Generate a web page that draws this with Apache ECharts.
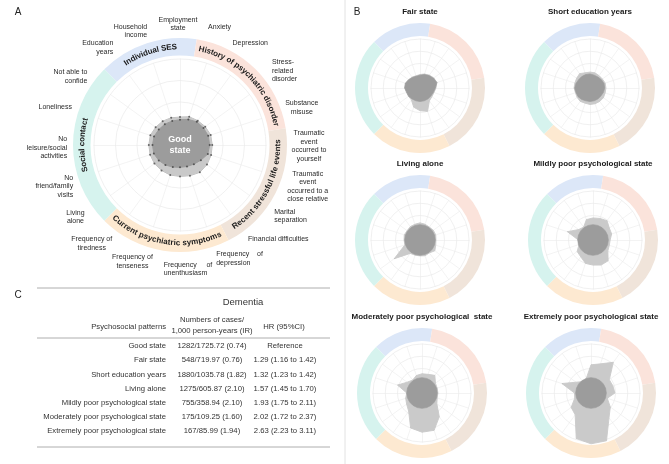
<!DOCTYPE html>
<html><head><meta charset="utf-8">
<script src="https://cdn.jsdelivr.net/npm/echarts@6/dist/echarts.min.js"></script>
<style>html,body{margin:0;padding:0;background:#fff}#c{width:669px;height:464px}</style>
</head><body><div id="c"></div>
<script>
// ---------- DATA ----------
const indicatorNames = ['Employment\nstate','Anxiety','Depression','Stress-\nrelated\ndisorder','Substance\nmisuse',
 'Traumatic\nevent\noccurred to\nyourself','Traumatic\nevent\noccurred to a\nclose relative','Marital\nseparation',
 'Financial difficulties','Frequency    of\ndepression','Frequency     of\nunenthusiasm','Frequency of\ntenseness',
 'Frequency of\ntiredness','Living\nalone','No\nfriend/family\nvisits','No\nleisure/social\nactivities','Loneliness',
 'Not able to\nconfide','Education\nyears','Household\nincome'];
const groupNames = ['Individual SES','History of psychiatric disorder','Recent stressful life events','Current psychiatric symptoms','Social contact'];
const groupSizes = [3,4,4,4,5];
const axisMax = 4;

const goodStateLight = [1.3,1.38,1.4,1.45,1.5,1.5,1.52,1.55,1.57,1.5,1.46,1.47,1.46,1.47,1.46,1.45,1.45,1.4,1.37,1.33];
const goodStateDark  = [1.18,1.25,1.33,1.35,1.38,1.38,1.36,1.2,1.1,1.05,1.04,1.08,1.15,1.22,1.28,1.28,1.27,1.22,1.2,1.17];

const patternTitles = ['Fair state','Short education years','Living alone','Mildly poor psychological state','Moderately poor psychological  state','Extremely poor psychological state'];
const fairLight = [1.1,1.2,1.3,1.4,1.45,1.3,1.2,1.2,1.3,2.0,1.85,1.65,1.2,1.15,1.15,1.25,1.25,1.15,1.1,1.05];
const fairDark  = [1.05,1.15,1.25,1.35,1.45,1.25,1.15,1.1,1.1,1.1,1.1,1.1,1.1,1.15,1.15,1.25,1.25,1.15,1.05,1.0];
const shortEduLight = [1.3,1.3,1.25,1.25,1.3,1.3,1.3,1.35,1.35,1.35,1.35,1.3,1.35,1.3,1.25,1.3,1.3,1.35,1.45,1.3];
const shortEduDark  = [1.15,1.1,1.1,1.15,1.2,1.2,1.15,1.1,1.1,1.1,1.1,1.1,1.15,1.2,1.2,1.25,1.2,1.15,1.15,1.15];
const livingAloneLight = [1.4,1.35,1.3,1.35,1.35,1.3,1.35,1.5,1.3,1.35,1.3,1.3,1.35,2.6,1.3,1.3,1.35,1.3,1.35,1.35];
const mildlyLight = [1.8,1.85,1.95,1.65,1.6,1.4,1.4,1.5,2.1,2.15,2.05,2.0,1.7,1.6,1.2,1.2,2.2,1.45,1.3,1.75];
const moderatelyLight = [1.57,1.6,1.78,1.36,1.3,1.3,1.3,1.5,2.4,3.2,3.2,3.0,1.85,1.55,1.4,1.25,2.1,1.5,1.3,1.5];
const extremelyLight = [2.3,2.5,3.1,1.85,1.88,1.95,1.4,1.95,2.5,4.1,4.15,3.9,2.2,2.0,1.4,1.35,2.5,1.5,1.15,1.25];
const referenceCircle = [1.25,1.25,1.25,1.25,1.25,1.25,1.25,1.25,1.25,1.25,1.25,1.25,1.25,1.25,1.25,1.25,1.25,1.25,1.25,1.25];

const tableHeader = ['Psychosocial patterns','Numbers of cases/\n1,000 person-years (IR)','HR (95%CI)'];
const tablePatterns = ['Good state','Fair state','Short education years','Living alone','Mildly poor psychological state','Moderately poor psychological state','Extremely poor psychological state'];
const tableCases = ['1282/1725.72 (0.74)','548/719.97 (0.76)','1880/1035.78 (1.82)','1275/605.87 (2.10)','755/358.94 (2.10)','175/109.25 (1.60)','167/85.99 (1.94)'];
const tableHR = ['Reference','1.29 (1.16 to 1.42)','1.32 (1.23 to 1.42)','1.57 (1.45 to 1.70)','1.93 (1.75 to 2.11)','2.02 (1.72 to 2.37)','2.63 (2.23 to 3.11)'];

// ---------- LAYOUT / STYLE ----------
const FONT = '"Liberation Sans", Arial, sans-serif';
const groupColors = ['#dce7f8','#fbe3db','#f0e4da','#fde9d1','#d6f3ee'];
const panelA = {c:[180,145], r:86, ring:[89.5,107]};
const panelsB = [
  {c:[420,88], t:12, light:fairLight, dark:fairDark},
  {c:[590,88], t:12, light:shortEduLight, dark:shortEduDark},
  {c:[420,240], t:164, light:livingAloneLight, dark:referenceCircle},
  {c:[593,240], t:164, light:mildlyLight, dark:referenceCircle},
  {c:[422,393], t:317, light:moderatelyLight, dark:referenceCircle},
  {c:[591,393], t:317, light:extremelyLight, dark:referenceCircle}
];
const bR = 49, bRing = [52,65];
// label alignment & nudges for panel A
const labelAlign = ['center','left','left','left','center','center','center','left','left','left','left','center','center','center','right','right','right','right','right','right'];
const labelNudge = [[-2,7],[0,4],[-5,2],[1,1],[0,2],[1,1],[6,2],[7,-4],[23,-9],[20,-8],[8,-4],[-8,-5],[-13,-5],[-1,-3],[-4,2],[-5,3],[-3,2],[-6,7],[-7,6],[-10,8]];

const N = indicatorNames.length;
const order = [0]; for (let i = N-1; i >= 1; i--) order.push(i); // ECharts radar goes counter-clockwise
const reorder = arr => order.map(i => arr[i]);

const mctx = document.createElement('canvas').getContext('2d');
function textWidth(t, font){ mctx.font = font; return Math.max(...t.split('\n').map(l => mctx.measureText(l).width)); }

function radarCfg(center, radius){
  return {center, radius, startAngle:90, shape:'circle', splitNumber:4,
    indicator: order.map(i => ({name: indicatorNames[i], min:0, max:axisMax})),
    axisName:{show:false}, axisLabel:{show:false}, axisTick:{show:false},
    splitLine:{lineStyle:{color:'#e6e6e6', width:0.6}},
    splitArea:{show:false},
    axisLine:{lineStyle:{color:'#ebebeb', width:0.6}}};
}
function ringSeries(center, radius){
  return {type:'pie', center, radius, startAngle:135, clockwise:true, silent:true, animation:false,
    label:{show:false}, labelLine:{show:false}, emphasis:{disabled:true},
    data: groupSizes.map((v,k)=>({value:v, name:groupNames[k], itemStyle:{color:groupColors[k]}}))};
}
function curvedText(cx, cy, r, midDeg, text, font, inward){
  mctx.font = font;
  const chars = [...text];
  const widths = chars.map(ch => mctx.measureText(ch).width);
  const total = widths.reduce((a,b)=>a+b,0);
  const span = total / r, mid = midDeg*Math.PI/180;
  const els = []; let cum = 0;
  chars.forEach((ch,i)=>{
    const off = (cum + widths[i]/2)/r - span/2; cum += widths[i];
    const a = inward ? mid - off : mid + off;
    els.push({type:'text', x: cx + r*Math.sin(a), y: cy - r*Math.cos(a), rotation: inward ? Math.PI - a : -a,
      silent:true, z:100, style:{text:ch, font, fill:'#1a1a1a', align:'center', verticalAlign:'middle'}});
  });
  return els;
}

const radars = [radarCfg(panelA.c, panelA.r)];
const series = [ringSeries(panelA.c, panelA.ring)];
series.push({type:'radar', radarIndex:0, silent:true, animation:false, symbol:'circle', symbolSize:2,
  data:[
    {value:reorder(goodStateLight), areaStyle:{color:'#c9c9c9', opacity:1}, lineStyle:{color:'#8d8d8d', width:0.6}, itemStyle:{color:'#666'}},
    {value:reorder(goodStateDark), areaStyle:{color:'#9c9c9c', opacity:1}, lineStyle:{color:'#7d7d7d', width:0.6}, itemStyle:{color:'#555'}}
  ]});
panelsB.forEach((p,k)=>{
  radars.push(radarCfg(p.c, bR));
  series.push(ringSeries(p.c, bRing));
  series.push({type:'radar', radarIndex:k+1, silent:true, animation:false, symbol:'none',
    data:[
      {value:reorder(p.light), areaStyle:{color:'#cacaca', opacity:1}, lineStyle:{color:'#9e9e9e', width:0.5}},
      {value:reorder(p.dark), areaStyle:{color:'#9c9c9c', opacity:1}, lineStyle:{color:'#8a8a8a', width:0.5}}
    ]});
});

const g = [];
// separators
g.push({type:'line', silent:true, shape:{x1:345,y1:0,x2:345,y2:464}, style:{stroke:'#e2e2e2', lineWidth:1}});
// panel letters
[['A',18,12],['B',357,12],['C',18,295]].forEach(([t,x,y])=>g.push({type:'text', x, y, silent:true, style:{text:t, font:'10px '+FONT, fill:'#222', align:'center', verticalAlign:'middle'}}));
// panel A indicator labels
const lblFont = '7px ' + FONT;
indicatorNames.forEach((name,i)=>{
  const a = i*2*Math.PI/N, R = 128;
  const cx = panelA.c[0] + R*Math.sin(a) + labelNudge[i][0];
  const cy = panelA.c[1] - R*Math.cos(a) + labelNudge[i][1];
  const w = textWidth(name, lblFont), al = labelAlign[i];
  const x = al === 'left' ? cx - w/2 : al === 'right' ? cx + w/2 : cx;
  g.push({type:'text', x, y:cy, silent:true, z:100, style:{text:name, font:lblFont, fill:'#2a2a2a', align:al, verticalAlign:'middle', lineHeight:8.5}});
});
// curved group labels
const gFont = 'bold 8px ' + FONT;
let startDeg = 315;
groupSizes.forEach((s,k)=>{
  const mid = startDeg + s*9;
  const midN = ((mid % 360) + 360) % 360;
  const inward = midN > 95 && midN < 265;
  g.push(...curvedText(panelA.c[0], panelA.c[1], 98, mid, groupNames[k], gFont, inward));
  startDeg += s*18;
});
// centre label
g.push({type:'text', x:panelA.c[0], y:panelA.c[1], silent:true, z:100, style:{text:'Good\nstate', font:'bold 9px '+FONT, fill:'#fff', align:'center', verticalAlign:'middle', lineHeight:10.5}});
// panel B titles
panelsB.forEach((p,k)=>g.push({type:'text', x:p.c[0], y:p.t, silent:true, style:{text:patternTitles[k], font:'bold 8px '+FONT, fill:'#1a1a1a', align:'center', verticalAlign:'middle'}}));
// table
const tFont = '7.7px ' + FONT;
const hl = (y)=>g.push({type:'line', silent:true, shape:{x1:37,y1:y,x2:330,y2:y}, style:{stroke:'#9a9a9a', lineWidth:0.8}});
hl(288); hl(338); hl(447);
g.push({type:'text', x:243, y:302, silent:true, style:{text:'Dementia', font:'9.5px '+FONT, fill:'#333', align:'center', verticalAlign:'middle'}});
g.push({type:'text', x:166, y:327, silent:true, style:{text:tableHeader[0], font:tFont, fill:'#333', align:'right', verticalAlign:'middle'}});
g.push({type:'text', x:212, y:325, silent:true, style:{text:tableHeader[1], font:tFont, fill:'#333', align:'center', verticalAlign:'middle', lineHeight:11}});
g.push({type:'text', x:284, y:327, silent:true, style:{text:tableHeader[2], font:tFont, fill:'#333', align:'center', verticalAlign:'middle'}});
tablePatterns.forEach((t,i)=>{
  const y = 346 + i*14.2;
  g.push({type:'text', x:166, y, silent:true, style:{text:t, font:tFont, fill:'#333', align:'right', verticalAlign:'middle'}});
  g.push({type:'text', x:212, y, silent:true, style:{text:tableCases[i], font:tFont, fill:'#333', align:'center', verticalAlign:'middle'}});
  g.push({type:'text', x:285, y, silent:true, style:{text:tableHR[i], font:tFont, fill:'#333', align:'center', verticalAlign:'middle'}});
});

const chart = echarts.init(document.getElementById('c'), null, {renderer:'canvas'});
chart.setOption({backgroundColor:'#fff', animation:false, radar:radars, series, graphic:{elements:g}});
</script></body></html>
